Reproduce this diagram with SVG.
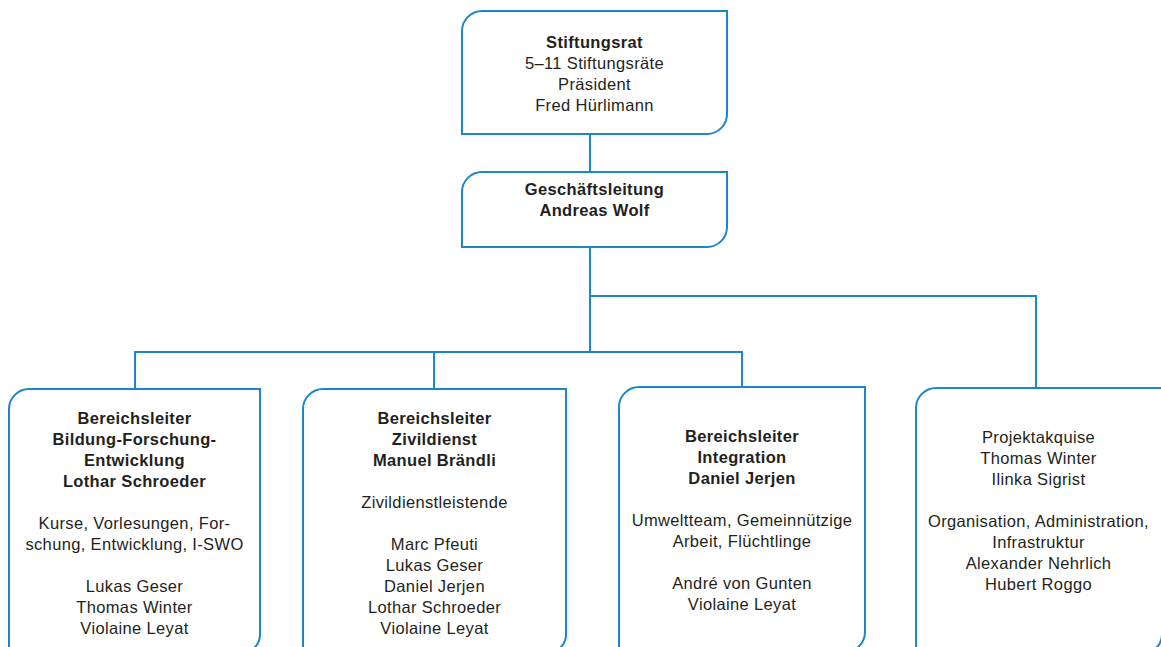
<svg xmlns="http://www.w3.org/2000/svg" width="1161" height="647" viewBox="0 0 1161 647">
<style>
.box{fill:#ffffff;stroke:#1b86c8;stroke-width:2}
.con{fill:none;stroke:#1b86c8;stroke-width:2}
text{font-family:"Liberation Sans",Arial,Helvetica,sans-serif;font-size:16.5px;letter-spacing:0.35px;fill:#231f20;text-anchor:middle}
.b{font-weight:bold}
</style>
<rect width="1161" height="647" fill="#ffffff"/>
<g id="connectors">
<path class="con" d="M590 134V172"/>
<path class="con" d="M590 247V352"/>
<path class="con" d="M590 296H1036V388"/>
<path class="con" d="M135 389V352H742V388"/>
<path class="con" d="M434 352V389"/>
</g>
<g id="stiftungsrat">
<path class="box" d="M482 11H727V114A20 20 0 0 1 707 134H462V31A20 20 0 0 1 482 11Z"/>
<text x="594.5" y="48" class="b">Stiftungsrat</text>
<text x="594.5" y="69">5–11 Stiftungsräte</text>
<text x="594.5" y="90">Präsident</text>
<text x="594.5" y="111">Fred Hürlimann</text>
</g>
<g id="geschaeftsleitung">
<path class="box" d="M482 172H727V227A20 20 0 0 1 707 247H462V192A20 20 0 0 1 482 172Z"/>
<text x="594.5" y="195" class="b">Geschäftsleitung</text>
<text x="594.5" y="216" class="b">Andreas Wolf</text>
</g>
<g id="bildung">
<path class="box" d="M29 389H260V634A20 20 0 0 1 240 654H9V409A20 20 0 0 1 29 389Z"/>
<text x="134.5" y="424" class="b">Bereichsleiter</text>
<text x="134.5" y="445" class="b">Bildung-Forschung-</text>
<text x="134.5" y="466" class="b">Entwicklung</text>
<text x="134.5" y="487" class="b">Lothar Schroeder</text>
<text x="134.5" y="529">Kurse, Vorlesungen, For-</text>
<text x="134.5" y="550">schung, Entwicklung, I-SWO</text>
<text x="134.5" y="592">Lukas Geser</text>
<text x="134.5" y="613">Thomas Winter</text>
<text x="134.5" y="634">Violaine Leyat</text>
</g>
<g id="zivildienst">
<path class="box" d="M323 389H566V634A20 20 0 0 1 546 654H303V409A20 20 0 0 1 323 389Z"/>
<text x="434.5" y="424" class="b">Bereichsleiter</text>
<text x="434.5" y="445" class="b">Zivildienst</text>
<text x="434.5" y="466" class="b">Manuel Brändli</text>
<text x="434.5" y="508">Zivildienstleistende</text>
<text x="434.5" y="550">Marc Pfeuti</text>
<text x="434.5" y="571">Lukas Geser</text>
<text x="434.5" y="592">Daniel Jerjen</text>
<text x="434.5" y="613">Lothar Schroeder</text>
<text x="434.5" y="634">Violaine Leyat</text>
</g>
<g id="integration">
<path class="box" d="M639 387H865V632A20 20 0 0 1 845 652H619V407A20 20 0 0 1 639 387Z"/>
<text x="742" y="442" class="b">Bereichsleiter</text>
<text x="742" y="463" class="b">Integration</text>
<text x="742" y="484" class="b">Daniel Jerjen</text>
<text x="742" y="526">Umweltteam, Gemeinnützige</text>
<text x="742" y="547">Arbeit, Flüchtlinge</text>
<text x="742" y="589">André von Gunten</text>
<text x="742" y="610">Violaine Leyat</text>
</g>
<g id="projektakquise">
<path class="box" d="M936 388H1162V634A20 20 0 0 1 1142 654H916V408A20 20 0 0 1 936 388Z"/>
<text x="1038.5" y="443">Projektakquise</text>
<text x="1038.5" y="464">Thomas Winter</text>
<text x="1038.5" y="485">Ilinka Sigrist</text>
<text x="1038.5" y="527">Organisation, Administration,</text>
<text x="1038.5" y="548">Infrastruktur</text>
<text x="1038.5" y="569">Alexander Nehrlich</text>
<text x="1038.5" y="590">Hubert Roggo</text>
</g>
</svg>
